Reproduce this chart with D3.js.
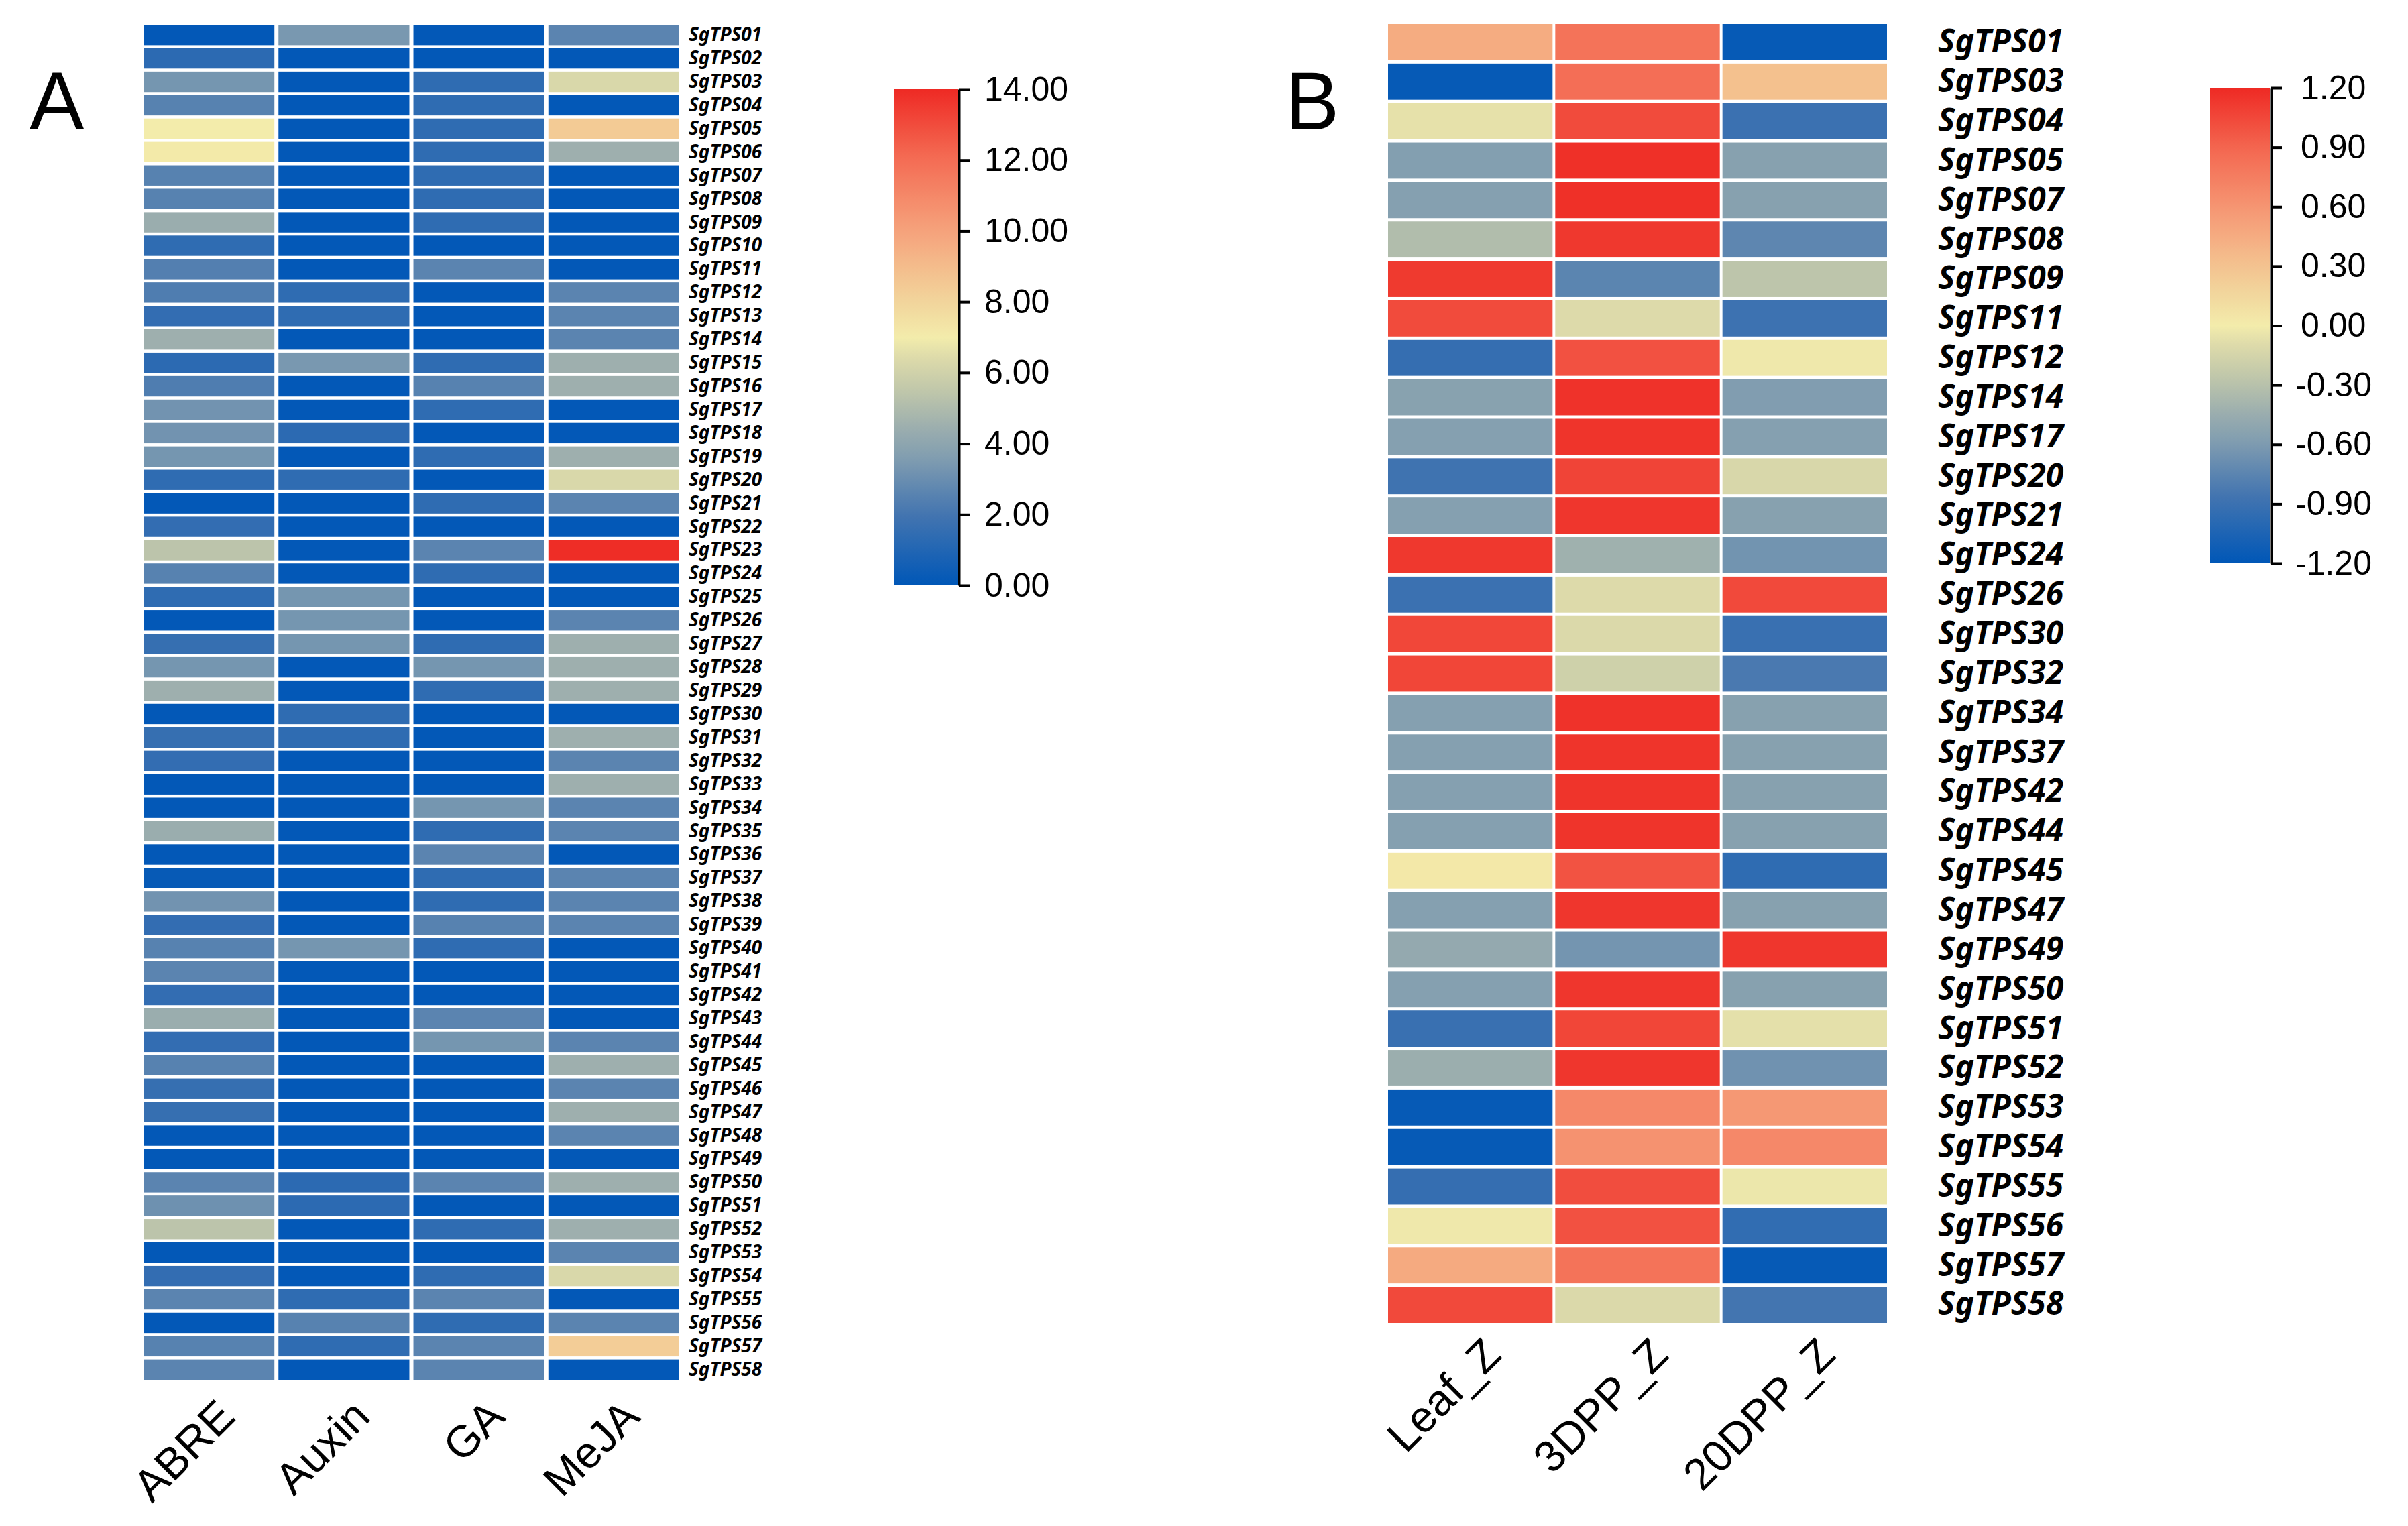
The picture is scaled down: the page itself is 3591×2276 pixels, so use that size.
<!DOCTYPE html>
<html>
<head>
<meta charset="UTF-8">
<title>SgTPS heatmaps</title>
<style>
    body { margin: 0; background: #fff; }
    .rowlab text { font-family: "Noto Sans", sans-serif; font-weight: bold; font-style: italic; fill: #000; }
    .collab text { font-family: "Liberation Sans", Arial, sans-serif; fill: #000; }
    .legend text { font-family: "Liberation Sans", Arial, sans-serif; fill: #000; }
    .panel { font-family: "Liberation Sans", Arial, sans-serif; }
</style>
</head>
<body>
<svg width="3591" height="2276"></svg>
<script src="https://d3js.org/d3.v7.min.js"></script>
<script>

// ---- Panel A: promoter elements (counts) ----
var genesA = ["SgTPS01","SgTPS02","SgTPS03","SgTPS04","SgTPS05","SgTPS06","SgTPS07","SgTPS08","SgTPS09","SgTPS10",
              "SgTPS11","SgTPS12","SgTPS13","SgTPS14","SgTPS15","SgTPS16","SgTPS17","SgTPS18","SgTPS19","SgTPS20",
              "SgTPS21","SgTPS22","SgTPS23","SgTPS24","SgTPS25","SgTPS26","SgTPS27","SgTPS28","SgTPS29","SgTPS30",
              "SgTPS31","SgTPS32","SgTPS33","SgTPS34","SgTPS35","SgTPS36","SgTPS37","SgTPS38","SgTPS39","SgTPS40",
              "SgTPS41","SgTPS42","SgTPS43","SgTPS44","SgTPS45","SgTPS46","SgTPS47","SgTPS48","SgTPS49","SgTPS50",
              "SgTPS51","SgTPS52","SgTPS53","SgTPS54","SgTPS55","SgTPS56","SgTPS57","SgTPS58"];
var condsA = ["ABRE", "Auxin", "GA", "MeJA"];

var abre  = [0.1,1.3,3.3,2.5,7.0,7.1,2.5,2.5,4.4,1.4, 2.4,2.3,1.5,4.5,1.3,2.3,3.2,3.2,3.3,1.4,
             0.1,1.5,5.4,2.5,1.4,0.1,1.6,3.3,4.5,0.1, 1.6,1.5,0.1,0.1,4.4,0.1,0.2,3.2,1.5,2.5,
             2.6,1.5,4.4,1.5,2.5,1.6,1.6,0.1,0.1,2.6, 3.1,5.4,0.1,1.5,2.6,0.1,2.5,2.6];
var auxin = [3.4,0.1,0.1,0.1,0.1,0.1,0.1,0.1,0.1,0.1, 0.1,1.4,1.4,0.1,3.4,0.1,0.1,1.3,0.1,1.4,
             0.1,0.1,0.1,0.1,3.3,3.3,3.3,0.1,0.1,1.4, 1.4,0.1,0.1,0.1,0.1,0.1,0.1,0.1,0.1,3.3,
             0.1,0.1,0.1,0.1,0.1,0.1,0.1,0.1,0.1,1.3, 1.3,0.1,0.1,0.1,1.4,2.5,1.4,0.1];
var ga    = [0.1,0.1,1.4,1.4,1.4,1.4,1.4,1.4,1.4,0.1, 2.6,0.1,0.1,0.1,1.4,2.5,1.4,0.1,1.4,0.1,
             1.4,0.1,2.6,1.4,0.1,0.1,1.4,3.3,1.4,0.1, 0.1,0.1,0.1,3.3,1.4,2.6,1.4,1.4,2.5,1.4,
             0.1,0.1,2.6,3.3,0.1,0.1,0.1,0.1,0.1,2.6, 0.1,1.4,0.1,1.4,2.6,1.4,2.6,2.6];
var meja  = [2.6,0.1,6.3,0.1,8.4,4.5,0.1,0.1,0.1,0.1, 0.1,2.6,2.6,2.6,4.5,4.5,0.1,0.1,4.5,6.3,
             2.6,0.1,13.9,0.1,0.1,2.6,4.5,4.5,4.5,0.1, 4.5,2.6,4.5,2.6,2.6,0.1,2.6,2.6,2.6,0.1,
             0.1,0.1,0.1,2.6,4.5,2.6,4.5,2.6,0.1,4.5, 0.1,4.5,2.6,6.3,0.1,2.6,8.3,0.1];
var seriesA = [abre, auxin, ga, meja];
var ticksA = [0, 2, 4, 6, 8, 10, 12, 14];

// ---- Panel B: expression z-scores ----
var genesB = ["SgTPS01","SgTPS03","SgTPS04","SgTPS05","SgTPS07","SgTPS08","SgTPS09","SgTPS11","SgTPS12","SgTPS14",
              "SgTPS17","SgTPS20","SgTPS21","SgTPS24","SgTPS26","SgTPS30","SgTPS32","SgTPS34","SgTPS37","SgTPS42",
              "SgTPS44","SgTPS45","SgTPS47","SgTPS49","SgTPS50","SgTPS51","SgTPS52","SgTPS53","SgTPS54","SgTPS55",
              "SgTPS56","SgTPS57","SgTPS58"];
var condsB = ["Leaf_Z", "3DPP_Z", "20DPP_Z"];

var leafZ  = [0.45,-1.17,-0.06,-0.57,-0.56,-0.33,1.12,1.03,-0.93,-0.54, -0.56,-0.88,-0.56,1.13,-0.90,1.05,1.06,-0.56,-0.56,-0.56,
              -0.56,0.03,-0.56,-0.48,-0.56,-0.91,-0.44,-1.17,-1.17,-0.93, -0.02,0.46,1.04];
var dpp3Z  = [0.82,0.85,1.03,1.17,1.17,1.13,-0.75,-0.10,1.00,1.16, 1.15,1.07,1.14,-0.42,-0.10,-0.11,-0.18,1.16,1.15,1.15,
              1.15,0.99,1.14,-0.64,1.14,1.06,1.14,0.68,0.62,1.02, 1.00,0.82,-0.11];
var dpp20Z = [-1.17,0.31,-0.90,-0.55,-0.55,-0.74,-0.27,-0.89,-0.02,-0.58, -0.56,-0.13,-0.55,-0.65,1.04,-0.91,-0.83,-0.55,-0.55,-0.55,
              -0.55,-0.96,-0.55,1.14,-0.55,-0.07,-0.66,0.58,0.68,-0.03, -0.95,-1.17,-0.86];
var seriesB = [leafZ, dpp3Z, dpp20Z];
var ticksB = [-1.2, -0.9, -0.6, -0.3, 0, 0.3, 0.6, 0.9, 1.2];

// shared blue-yellow-red palette (position 0..1)
var paletteT = [0, 0.14, 0.25, 0.32, 0.40, 0.46, 0.50, 0.57, 0.64, 0.72, 0.86, 1];
var paletteC = ["#0057b7","#4274b0","#7d9bb0","#9dafae","#c3c9aa","#dedbaa","#f3ecab","#f2d59c","#f4bd8c","#f5a07a","#f46c54","#ee2a24"];

function makeColor(lo, hi) {
    return d3.scaleLinear()
        .domain(paletteT.map(function (t) { return lo + t * (hi - lo); }))
        .range(paletteC)
        .interpolate(d3.interpolateRgb)
        .clamp(true);
}

var svg = d3.select("svg");
var defs = svg.append("defs");

function heatmap(opt) {
    var g = svg.append("g");
    var x = d3.scaleBand().domain(opt.conds).range(opt.xr).paddingInner(opt.padX);
    var y = d3.scaleBand().domain(opt.genes).range(opt.yr).paddingInner(opt.padY);
    var color = makeColor(opt.lo, opt.hi);

    var cells = [];
    opt.genes.forEach(function (gene, i) {
        opt.conds.forEach(function (c, j) {
            cells.push({gene: gene, cond: c, v: opt.series[j][i]});
        });
    });

    g.selectAll("rect.cell")
        .data(cells)
        .enter().append("rect")
        .attr("class", "cell")
        .attr("x", function (d) { return x(d.cond); })
        .attr("y", function (d) { return y(d.gene); })
        .attr("width", x.bandwidth())
        .attr("height", y.bandwidth())
        .attr("fill", function (d) { return color(d.v); });

    // gene names on the right
    var rl = g.append("g")
        .attr("class", "rowlab")
        .attr("transform", "translate(" + (opt.xr[1] + opt.labGap) + ",0)")
        .call(d3.axisRight(y).tickSize(0).tickPadding(0));
    rl.select(".domain").remove();
    rl.selectAll("text").style("font-size", opt.rowFont + "px");

    // condition names, rotated
    var cl = g.append("g")
        .attr("class", "collab")
        .attr("transform", "translate(0," + opt.colY + ")")
        .call(d3.axisBottom(x).tickSize(0).tickPadding(0));
    cl.select(".domain").remove();
    cl.selectAll("text")
        .style("font-size", opt.colFont + "px")
        .attr("text-anchor", "end")
        .attr("y", 0)
        .attr("dy", 0)
        .attr("transform", "translate(" + opt.colDx + ",0) rotate(-45)");

    // colour legend
    var lg = svg.append("g").attr("class", "legend");
    var ly = d3.scaleLinear().domain([opt.lo, opt.hi]).range([opt.leg.y1, opt.leg.y0]);
    var grad = defs.append("linearGradient")
        .attr("id", opt.id)
        .attr("x1", 0).attr("y1", 1).attr("x2", 0).attr("y2", 0);
    grad.selectAll("stop")
        .data(d3.range(0, 1.0001, 0.02))
        .enter().append("stop")
        .attr("offset", function (t) { return t; })
        .attr("stop-color", function (t) { return color(opt.lo + t * (opt.hi - opt.lo)); });
    lg.append("rect")
        .attr("x", opt.leg.x)
        .attr("y", opt.leg.y0)
        .attr("width", opt.leg.w)
        .attr("height", opt.leg.y1 - opt.leg.y0)
        .attr("fill", "url(#" + opt.id + ")");
    var ax = lg.append("g")
        .attr("transform", "translate(" + (opt.leg.x + opt.leg.w + 2) + ",0)")
        .call(d3.axisRight(ly)
            .tickValues(opt.ticks)
            .tickSize(16)
            .tickSizeOuter(0)
            .tickPadding(opt.leg.pad)
            .tickFormat(function (d) { return d.toFixed(2).replace("-0.00", "0.00"); }));
    ax.select(".domain").attr("stroke", "#000").attr("stroke-width", 4);
    ax.selectAll(".tick line").attr("stroke", "#000").attr("stroke-width", 4);
    ax.selectAll(".tick text")
        .style("font-size", "50px")
        .attr("dx", function (d) { return d < 0 ? -8 : 0; });

    svg.append("text")
        .attr("class", "panel")
        .attr("x", opt.label.x)
        .attr("y", opt.label.y)
        .style("font-size", "122px")
        .text(opt.label.t);
}

heatmap({
    id: "gradA", genes: genesA, conds: condsA, series: seriesA, lo: 0, hi: 14, ticks: ticksA,
    xr: [214, 1013], yr: [37, 2058], padX: 0.03, padY: 0.13,
    labGap: 14, rowFont: 28,
    colY: 2116, colDx: 42, colFont: 66,
    leg: {x: 1333, w: 95, y0: 133, y1: 873, pad: 22},
    label: {x: 44, y: 193, t: "A"}
});

heatmap({
    id: "gradB", genes: genesB, conds: condsB, series: seriesB, lo: -1.2, hi: 1.2, ticks: ticksB,
    xr: [2070, 2814], yr: [36, 1973], padX: 0.016, padY: 0.085,
    labGap: 76, rowFont: 48,
    colY: 2024, colDx: 49, colFont: 66,
    leg: {x: 3295, w: 90, y0: 131, y1: 840, pad: 28},
    label: {x: 1916, y: 193, t: "B"}
});

</script>
</body>
</html>
